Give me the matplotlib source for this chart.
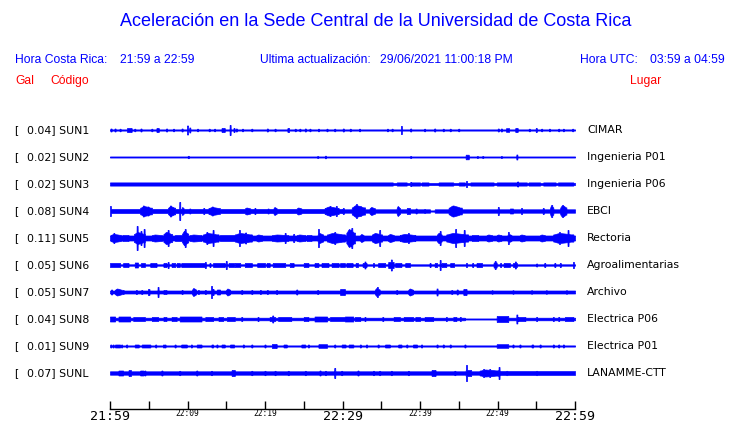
import numpy as np
import matplotlib
matplotlib.use("Agg")
import matplotlib.pyplot as plt

# ---------------- data ----------------
codes = ["SUN1", "SUN2", "SUN3", "SUN4", "SUN5", "SUN6", "SUN7", "SUN8", "SUN9", "SUNL"]
peaks_gal = ["0.04", "0.02", "0.02", "0.08", "0.11", "0.05", "0.05", "0.04", "0.01", "0.07"]
places = ["CIMAR", "Ingenieria P01", "Ingenieria P06", "EBCI", "Rectoria",
          "Agroalimentarias", "Archivo", "Electrica P06", "Electrica P01", "LANAMME-CTT"]

tick_minutes = list(range(0, 61, 5))
tick_labels = ["21:59", "", "22:09", "", "22:19", "", "22:29", "", "22:39", "", "22:49", "", "22:59"]
big_labels = ["21:59", "22:29", "22:59"]

# Envelope description per station (minutes after 21:59, relative half-amplitude)
# base: (start, end, level); bursts: (start, end, peak level); spikes: (minute, level)
sun1_base = [(0, 60, 0.6)]
sun1_bursts = [(2.2, 2.8, 2.0), (6.0, 6.3, 2.0), (14.4, 14.8, 2.0), (22.9, 23.1, 2.0),
               (51.1, 51.5, 1.8), (52.3, 52.6, 2.0)]
sun1_spikes = [(0.13, 1.5), (0.65, 1.5), (1.3, 1.3), (3.2, 1.3), (4.0, 1.5), (5.4, 1.3),
               (7.3, 1.5), (8.2, 1.3), (9.3, 1.5), (10.0, 4.5), (10.3, 2.5), (11.3, 1.3),
               (12.8, 1.3), (13.5, 1.3), (15.5, 5.0), (16.0, 2.0), (16.3, 1.5), (17.1, 1.3),
               (18.3, 1.3), (20.3, 1.5), (21.3, 1.3), (23.9, 1.3), (24.5, 1.3), (25.2, 1.5),
               (25.8, 1.3), (26.9, 1.3), (28.0, 1.3), (29.0, 1.3), (30.1, 1.5), (31.0, 1.3),
               (32.2, 1.3), (35.8, 1.3), (36.4, 1.3), (37.6, 4.0), (38.8, 1.5), (40.6, 1.3),
               (41.9, 1.5), (43.0, 1.3), (43.9, 1.3), (45.0, 1.3), (50.1, 1.5), (50.5, 1.5),
               (54.1, 1.3), (55.0, 2.0), (55.7, 1.3), (56.7, 1.3), (57.9, 1.3), (58.5, 1.3),
               (59.7, 1.3)]

sun2_base = [(0, 60, 0.55)]
sun2_bursts = [(45.9, 46.3, 2.3)]
sun2_spikes = [(10.1, 1.2), (26.8, 1.0), (27.8, 1.3), (38.8, 1.0), (47.4, 1.0),
               (48.1, 1.0), (50.5, 1.0), (52.5, 2.5)]

sun3_base = [(0, 36.5, 1.6), (36.5, 60, 1.0)]
sun3_bursts = [(37.0, 38.3, 1.6), (38.9, 40.0, 1.6), (40.2, 41.1, 1.6), (42.4, 44.3, 1.6),
               (45.0, 45.8, 1.6), (46.5, 49.5, 1.6), (49.9, 52.5, 1.6), (52.7, 53.8, 1.6),
               (54.0, 55.5, 1.6), (55.9, 57.5, 1.6), (57.8, 59.8, 1.6)]
sun3_spikes = [(38.8, 2.0), (46.0, 3.0), (52.6, 2.5)]

sun4_base = [(0, 30, 2.0), (30, 41.3, 1.7), (41.3, 41.9, 0.6), (41.9, 60, 1.7)]
sun4_bursts = [(3.9, 5.4, 5.0), (7.5, 8.4, 5.0), (9.25, 9.5, 4.0), (12.7, 14.2, 4.0),
               (17.4, 18.1, 3.5), (21.1, 21.5, 4.0), (24.1, 24.7, 3.5), (27.7, 29.5, 4.5),
               (31.2, 32.9, 6.0), (33.5, 34.2, 4.0), (37.0, 37.4, 5.0), (38.3, 38.7, 3.0),
               (43.7, 45.4, 5.5), (51.6, 52.0, 2.5), (56.8, 57.2, 6.0), (58.1, 58.9, 6.0)]
sun4_spikes = [(0.05, 5.0), (4.3, 5.5), (4.9, 4.5), (7.8, 5.5), (9.0, 9.0), (10.3, 2.5),
               (12.1, 3.0), (13.2, 4.5), (18.7, 3.0), (20.4, 2.5), (28.4, 5.0), (29.2, 5.0),
               (30.1, 3.0), (31.8, 7.0), (32.3, 5.0), (39.5, 2.5), (40.6, 2.0), (44.3, 5.5),
               (50.1, 4.0), (53.1, 3.0), (55.9, 3.0), (57.0, 6.0), (58.4, 6.0)]

sun5_base = [(0, 60, 2.5)]
sun5_bursts = [(0.07, 1.4, 4.0), (1.6, 2.4, 3.0), (3.1, 4.5, 6.0), (5.4, 6.7, 3.5),
               (6.9, 8.0, 6.0), (8.4, 9.3, 3.0), (9.3, 10.1, 7.0), (10.3, 11.8, 3.5),
               (12.0, 14.0, 5.0), (14.2, 16.1, 3.0), (16.1, 18.3, 5.0), (18.9, 19.6, 3.5),
               (20.9, 23.0, 3.5), (24.1, 25.2, 3.5), (25.4, 26.0, 3.0), (26.8, 27.5, 5.0),
               (28.0, 30.3, 5.0), (30.5, 31.6, 9.0), (32.3, 32.7, 4.0), (33.8, 35.1, 5.0),
               (35.9, 36.6, 4.0), (37.4, 39.4, 4.0), (42.2, 42.8, 5.0), (43.4, 46.2, 5.0),
               (46.7, 47.5, 3.0), (48.6, 49.3, 3.5), (49.9, 50.5, 3.5), (51.3, 51.8, 4.0),
               (52.9, 53.5, 3.5), (55.5, 56.1, 3.5), (57.2, 59.8, 5.0)]
sun5_spikes = [(0.5, 5.0), (3.5, 12.0), (4.0, 7.0), (4.4, 9.0), (7.5, 8.0), (9.7, 9.0),
               (12.5, 6.0), (13.3, 8.0), (16.7, 8.0), (17.5, 5.5), (22.6, 5.0), (23.7, 4.0),
               (26.9, 9.0), (29.0, 6.0), (31.2, 10.0), (30.9, 7.0), (34.8, 8.0), (38.5, 5.0),
               (42.6, 7.0), (44.6, 9.0), (45.7, 8.0), (51.4, 6.0), (58.0, 6.0), (59.1, 8.0)]

sun6_base = [(0, 60, 0.7)]
sun6_bursts = [(0.0, 1.3, 2.0), (1.7, 2.4, 2.0), (3.2, 3.6, 2.5), (4.0, 4.5, 2.0),
               (5.2, 6.0, 2.0), (6.9, 7.3, 2.0), (7.95, 8.4, 2.0), (8.6, 9.0, 2.0),
               (9.2, 12.3, 2.0), (13.3, 14.8, 2.0), (15.3, 16.0, 2.0), (16.1, 16.8, 2.0),
               (17.4, 18.3, 2.0), (19.0, 20.0, 2.0), (20.2, 20.6, 2.0), (21.0, 22.6, 2.0),
               (23.2, 23.7, 2.0), (25.0, 25.6, 2.0), (26.4, 26.9, 2.0), (27.3, 28.2, 2.0),
               (28.6, 29.5, 2.0), (29.7, 30.3, 2.0), (30.5, 31.3, 2.0), (31.7, 32.0, 2.0),
               (32.6, 33.1, 2.0), (34.6, 35.5, 2.0), (35.9, 36.6, 3.0), (36.8, 37.6, 2.0),
               (38.1, 38.7, 2.0), (41.9, 42.2, 2.0), (42.8, 43.4, 2.0), (43.9, 44.4, 2.0),
               (47.3, 48.0, 2.0), (49.5, 49.9, 2.5), (50.8, 51.6, 2.0), (52.0, 52.5, 2.0)]
sun6_spikes = [(7.5, 3.0), (12.3, 3.0), (12.9, 2.0), (15.0, 4.0), (32.9, 3.5), (34.0, 2.0),
               (36.3, 5.5), (41.3, 2.0), (42.6, 5.0), (46.0, 2.0), (46.8, 2.0), (49.7, 4.0),
               (50.4, 2.0), (52.3, 3.5), (55.05, 1.5), (56.1, 2.0), (57.4, 2.0), (58.1, 2.0),
               (59.8, 3.0)]

sun7_base = [(0, 60, 1.5)]
sun7_bursts = [(0.65, 1.5, 3.5), (4.9, 5.1, 3.0), (6.9, 7.3, 2.0), (10.6, 11.1, 4.0),
               (13.8, 14.2, 2.5), (15.0, 15.5, 3.5), (29.7, 30.3, 3.0), (34.2, 34.8, 4.0),
               (38.5, 39.1, 3.5), (45.6, 46.0, 3.0)]
sun7_spikes = [(0.2, 2.5), (1.7, 2.0), (3.4, 2.0), (4.1, 2.0), (6.2, 5.0), (9.3, 2.0),
               (11.4, 2.0), (12.3, 2.0), (13.1, 6.0), (13.3, 3.0), (17.0, 2.0), (18.3, 2.0),
               (19.4, 2.0), (20.3, 2.0), (21.5, 2.0), (24.1, 2.5), (26.8, 2.0), (34.5, 5.0),
               (37.0, 2.0), (42.2, 3.5), (44.1, 2.0), (44.8, 2.5), (49.3, 1.8), (52.0, 1.8),
               (54.4, 1.8), (56.3, 1.8), (58.9, 1.8)]

sun8_base = [(0, 45.8, 1.3), (45.8, 49.9, 0.55), (49.9, 60, 1.3)]
sun8_bursts = [(0.0, 0.65, 2.5), (1.1, 2.6, 2.5), (3.0, 4.5, 2.0), (5.4, 6.2, 2.0),
               (6.9, 7.3, 2.0), (7.95, 8.6, 2.0), (9.0, 11.8, 2.5), (12.3, 13.3, 2.0),
               (14.0, 14.6, 2.0), (15.1, 16.1, 2.0), (20.6, 21.3, 2.0), (21.7, 23.4, 2.0),
               (25.0, 25.6, 2.0), (26.4, 28.0, 2.5), (28.4, 30.3, 2.0), (30.3, 31.4, 2.5),
               (31.6, 32.3, 2.0), (36.6, 37.4, 2.0), (37.9, 39.1, 2.0), (39.4, 40.0, 2.0),
               (40.6, 41.7, 2.0), (44.3, 44.7, 2.0), (49.9, 51.4, 3.0), (52.6, 53.6, 2.0),
               (58.7, 59.8, 2.0)]
sun8_spikes = [(17.0, 2.0), (19.1, 2.0), (21.0, 3.5), (32.9, 2.0), (35.2, 2.0), (43.4, 2.0),
               (45.2, 2.0), (52.5, 4.5), (55.05, 2.0), (57.2, 2.0), (57.9, 2.0)]

sun9_base = [(0, 60, 0.6)]
sun9_bursts = [(0.65, 1.3, 1.5), (3.2, 3.7, 1.5), (4.1, 5.2, 1.5), (9.2, 9.9, 1.5),
               (11.2, 11.8, 1.5), (13.1, 13.3, 1.5), (14.4, 14.8, 1.5), (15.5, 16.0, 1.5),
               (20.9, 21.5, 2.0), (22.4, 22.8, 1.5), (24.7, 25.2, 1.5), (26.9, 28.0, 1.8),
               (29.9, 30.4, 1.5), (30.8, 31.4, 1.5), (35.5, 36.1, 1.5), (37.2, 37.6, 1.5),
               (39.1, 39.6, 1.5), (49.9, 51.4, 1.8), (54.4, 54.6, 1.5)]
sun9_spikes = [(0.1, 1.5), (0.4, 1.5), (1.5, 1.5), (2.15, 1.5), (5.9, 1.5), (6.9, 1.5),
               (7.1, 1.5), (8.4, 1.5), (10.5, 1.5), (13.8, 1.5), (17.2, 1.5), (18.3, 1.5),
               (20.0, 1.5), (25.6, 1.5), (29.0, 1.5), (32.3, 1.5), (33.1, 1.5), (34.6, 1.5),
               (38.3, 1.5), (40.2, 1.5), (42.2, 1.5), (43.0, 1.5), (43.9, 1.5), (45.8, 1.5),
               (52.0, 1.5), (52.9, 1.5), (55.5, 1.5), (57.2, 1.5), (57.9, 1.5), (58.5, 1.5)]

sunl_base = [(0, 49.0, 1.7), (49.0, 60, 1.9)]
sunl_bursts = [(1.1, 1.7, 2.5), (2.4, 2.7, 3.0), (3.9, 4.3, 2.5), (15.7, 16.1, 3.0),
               (41.5, 42.0, 3.0), (45.9, 46.6, 3.0), (47.7, 50.1, 3.5)]
sunl_spikes = [(4.5, 2.5), (6.7, 2.5), (9.0, 2.2), (11.2, 2.5), (13.1, 2.2), (18.3, 2.2),
               (20.0, 2.2), (21.3, 2.2), (23.0, 2.2), (25.2, 2.2), (27.1, 2.5), (27.8, 2.2),
               (29.0, 5.0), (29.9, 2.2), (32.0, 2.5), (34.0, 2.2), (34.8, 2.2), (36.3, 2.2),
               (38.5, 2.2), (44.5, 2.2), (46.0, 8.0), (48.2, 4.0), (49.0, 4.0), (50.2, 6.0),
               (51.2, 2.2), (55.05, 2.2)]

stations = [
    (sun1_base, sun1_bursts, sun1_spikes), (sun2_base, sun2_bursts, sun2_spikes),
    (sun3_base, sun3_bursts, sun3_spikes), (sun4_base, sun4_bursts, sun4_spikes),
    (sun5_base, sun5_bursts, sun5_spikes), (sun6_base, sun6_bursts, sun6_spikes),
    (sun7_base, sun7_bursts, sun7_spikes), (sun8_base, sun8_bursts, sun8_spikes),
    (sun9_base, sun9_bursts, sun9_spikes), (sunl_base, sunl_bursts, sunl_spikes),
]

# ---------------- figure ----------------
W, H = 740, 423
fig = plt.figure(figsize=(W / 100, H / 100), dpi=100)
fig.patch.set_facecolor("white")

BLUE = "#0000ff"
RED = "#ff0000"
SANS = "Liberation Sans"


def fx(px):
    return px / W


def fy(py):
    return 1 - py / H


# axes spanning trace area: x 110..575 px, y 115..409 px
ax = fig.add_axes([fx(110), fy(409), fx(575) - fx(110), fy(115) - fy(409)])
SP = 27.0  # spacing between traces (amplitude units)
n = len(codes)
ax.set_xlim(0, 60)
ax.set_ylim(-(n - 1) * SP - 36, 15)

t = np.linspace(0, 60, 4801)
spike_half = 0.07
for i, (base, bursts, spikes) in enumerate(stations):
    env = np.zeros_like(t)
    for a, b, lv in base:
        m = (t >= a) & (t <= b)
        env[m] = lv
    floor = env.copy()
    for a, b, lv in bursts:
        m = (t >= a) & (t <= b)
        if lv >= 3.5:
            u = (t[m] - a) / (b - a)
            shape = np.where(u < 0.3, u / 0.3, (1 - u) / 0.7) ** 0.5
            prof = floor[m] + (lv - floor[m]) * np.clip(shape, 0.45, 1)
        else:
            prof = np.full(m.sum(), lv)
        env[m] = np.maximum(env[m], prof)
    for c, lv in spikes:
        m = np.abs(t - c) <= spike_half
        env[m] = np.maximum(env[m], lv)
    yc = -i * SP
    ax.fill_between(t, yc - env, yc + env, color=BLUE, linewidth=0.5, edgecolor=BLUE,
                    antialiased=False)

for s in ["top", "left", "right"]:
    ax.spines[s].set_visible(False)
ax.spines["bottom"].set_linewidth(1.0)
ax.set_yticks([])
ax.set_xticks(tick_minutes)
ax.set_xticklabels(tick_labels, family="DejaVu Sans Mono")
ax.tick_params(axis="x", direction="in", length=6, width=1, pad=1)
for lab in ax.get_xticklabels():
    if lab.get_text() in big_labels:
        lab.set_fontsize(9.5)
    else:
        lab.set_fontsize(5.7)
        lab.set_y(0.004)

# station labels
for i in range(n):
    ypx = 130 + i * SP
    fig.text(fx(14), fy(ypx), "[", fontsize=7.8, family="DejaVu Sans", va="center", ha="left")
    fig.text(fx(27), fy(ypx), f"{peaks_gal[i]}] {codes[i]}", fontsize=7.8,
             family="DejaVu Sans", va="center", ha="left")
    fig.text(fx(587), fy(ypx), places[i], fontsize=7.8, family="DejaVu Sans",
             va="center", ha="left")

# title and headers
HS = 8.7
fig.text(fx(376), fy(21), "Aceleración en la Sede Central de la Universidad de Costa Rica",
         color=BLUE, fontsize=13, family=SANS, ha="center", va="center")
fig.text(fx(15), fy(60), "Hora Costa Rica:", color=BLUE, fontsize=HS, family=SANS, va="center")
fig.text(fx(120), fy(60), "21:59 a 22:59", color=BLUE, fontsize=HS, family=SANS, va="center")
fig.text(fx(260), fy(60), "Ultima actualización:", color=BLUE, fontsize=HS, family=SANS, va="center")
fig.text(fx(380), fy(60), "29/06/2021 11:00:18 PM", color=BLUE, fontsize=HS, family=SANS, va="center")
fig.text(fx(580), fy(60), "Hora UTC:", color=BLUE, fontsize=HS, family=SANS, va="center")
fig.text(fx(650), fy(60), "03:59 a 04:59", color=BLUE, fontsize=HS, family=SANS, va="center")
fig.text(fx(15), fy(81), "Gal", color=RED, fontsize=HS, family=SANS, va="center")
fig.text(fx(50), fy(81), "Código", color=RED, fontsize=HS, family=SANS, va="center")
fig.text(fx(630), fy(81), "Lugar", color=RED, fontsize=HS, family=SANS, va="center")

fig.savefig("out.png", dpi=100, facecolor="white")
